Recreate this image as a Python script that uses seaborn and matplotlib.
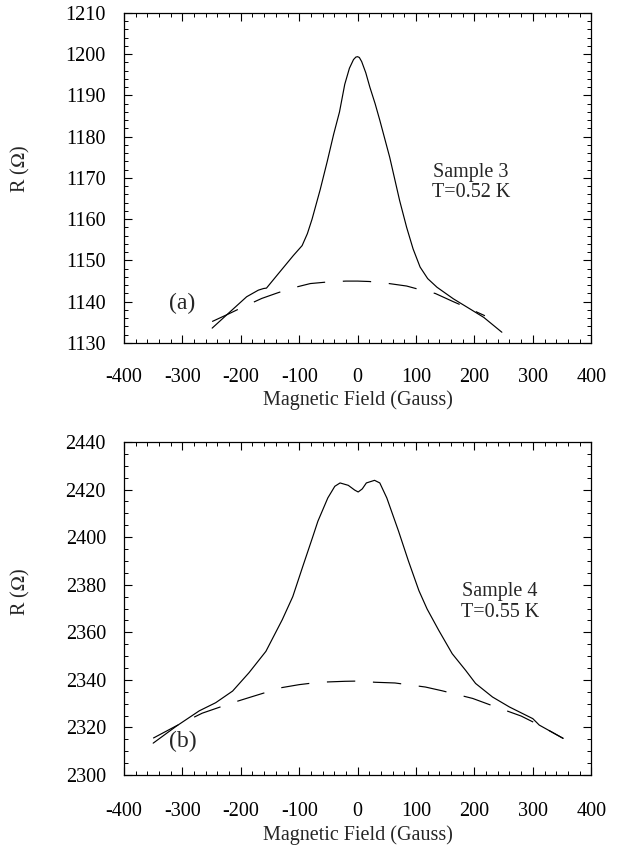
import matplotlib
matplotlib.use("Agg")

import numpy as np
import pandas as pd
import matplotlib.pyplot as plt
import seaborn as sns
from matplotlib.ticker import MultipleLocator

# ==========================
# Data
# ==========================

# (a) Sample 3, T = 0.52 K
field_a = [-249, -218, -190, -170, -161, -156, -138, -110, -95, -86, -78, -64,
           -52, -41, -31, -22, -14, -7, -3, 0, 3, 7, 14, 21, 30, 38, 55, 72,
           84, 95, 107, 120, 136, 164, 193, 216, 247]
r_a = [1133.6, 1137.6, 1141.2, 1142.8, 1143.2, 1143.3, 1146.4, 1151.2, 1153.6,
       1156.5, 1160.0, 1167.2, 1174.0, 1180.6, 1186.0, 1192.7, 1196.6, 1198.7,
       1199.3, 1199.4, 1199.2, 1198.2, 1195.5, 1192.0, 1188.0, 1184.0, 1175.0,
       1164.5, 1158.0, 1152.8, 1148.4, 1145.6, 1143.5, 1140.7, 1138.2, 1136.2,
       1132.6]

field_a_fit = [-249, -220, -195, -164, -140, -115, -81, -50, -20, 0, 20, 49,
               84, 110, 133, 164, 190, 218]
r_a_fit = [1135.2, 1137.1, 1138.8, 1140.8, 1142.0, 1143.2, 1144.4, 1144.8,
           1145.0, 1145.0, 1144.9, 1144.5, 1143.8, 1142.8, 1142.0, 1140.0,
           1138.4, 1136.6]

# (b) Sample 4, T = 0.55 K
field_b = [-350, -310, -271, -243, -214, -186, -157, -129, -111, -94, -77,
           -68, -51, -39, -30, -16, -5, 1, 8, 15, 29, 38, 50, 70, 87, 105,
           119, 139, 162, 185, 202, 231, 260, 300, 311, 352]
r_b = [2313.4, 2320.6, 2327.0, 2330.4, 2335.3, 2343.0, 2352.0, 2365.3, 2375.0,
       2387.6, 2400.0, 2406.7, 2416.5, 2421.4, 2422.8, 2421.8, 2419.8, 2419.0,
       2420.3, 2422.8, 2423.9, 2422.8, 2416.5, 2402.6, 2390.0, 2377.5, 2369.8,
       2360.8, 2351.0, 2344.0, 2338.5, 2332.8, 2328.6, 2323.7, 2321.0, 2315.4]

field_b_fit = [-350, -311, -266, -214, -180, -131, -100, -66, -22, 0, 30, 64,
               116, 145, 197, 228, 280, 311, 352]
r_b_fit = [2315.5, 2320.6, 2326.0, 2330.4, 2333.0, 2336.7, 2338.0, 2339.0,
           2339.4, 2339.5, 2339.0, 2338.7, 2337.0, 2335.4, 2332.2, 2329.4,
           2324.8, 2321.0, 2315.4]

panels = [
    dict(field=field_a, r=r_a, field_fit=field_a_fit, r_fit=r_a_fit,
         ylim=(1130, 1210), ymajor=10, yminor=2, tag="(a)",
         sample="Sample 3\nT=0.52 K", tag_xy=(0.124, 0.12),
         sample_xy=(0.743, 0.487), xpad=18, xlab_y=-0.142, ylab_y=0.526),
    dict(field=field_b, r=r_b, field_fit=field_b_fit, r_fit=r_b_fit,
         ylim=(2300, 2440), ymajor=20, yminor=5, tag="(b)",
         sample="Sample 4\nT=0.55 K", tag_xy=(0.126, 0.10),
         sample_xy=(0.805, 0.52), xpad=19.5, xlab_y=-0.150, ylab_y=0.548),
]

# ==========================
# Figure
# ==========================

sns.set_theme(style="ticks")
plt.rcParams['font.family'] = ['Liberation Serif', 'DejaVu Serif']
plt.rcParams['mathtext.fontset'] = 'stix'
plt.rcParams['axes.unicode_minus'] = False

FS = 14.5

fig = plt.figure(figsize=(6.23, 8.46), dpi=100)
axes = [fig.add_axes([0.199, 0.5946, 0.750, 0.3901]),
        fig.add_axes([0.199, 0.0839, 0.750, 0.3936])]

for ax, p in zip(axes, panels):
    meas = pd.DataFrame({"B": p["field"], "R": p["r"]})
    fit = pd.DataFrame({"B": p["field_fit"], "R": p["r_fit"]})

    sns.lineplot(data=meas, x="B", y="R", ax=ax, color="black", lw=0.85,
                 sort=False, estimator=None)
    line_fit = sns.lineplot(data=fit, x="B", y="R", ax=ax, color="black",
                            lw=0.85, sort=False, estimator=None).lines[-1]
    line_fit.set_dashes((24, 15))

    ax.set_xlim(-400, 400)
    ax.set_ylim(*p["ylim"])
    ax.xaxis.set_major_locator(MultipleLocator(100))
    ax.xaxis.set_minor_locator(MultipleLocator(20))
    ax.yaxis.set_major_locator(MultipleLocator(p["ymajor"]))
    ax.yaxis.set_minor_locator(MultipleLocator(p["yminor"]))

    ax.tick_params(which="both", direction="in", top=True, right=True,
                   colors="black", labelsize=FS)
    ax.tick_params(which="major", length=6, width=0.8)
    ax.tick_params(which="minor", length=3, width=0.7)
    ax.tick_params(axis="x", pad=p["xpad"])
    ax.tick_params(axis="y", pad=13)
    for s in ax.spines.values():
        s.set_linewidth(0.9)
        s.set_color("black")

    ax.set_xlabel("Magnetic Field (Gauss)", fontsize=FS)
    ax.set_ylabel(r"R ($\Omega$)", fontsize=FS)
    ax.yaxis.set_label_coords(-0.197, p["ylab_y"])
    ax.xaxis.set_label_coords(0.5, p["xlab_y"])

    ax.text(*p["tag_xy"], p["tag"], transform=ax.transAxes, fontsize=17,
            ha="center", va="center")
    ax.text(*p["sample_xy"], p["sample"], transform=ax.transAxes,
            fontsize=FS, ha="center", va="center", linespacing=1.1)

fig.savefig("out.png", dpi=100, facecolor="white")
plt.close(fig)
